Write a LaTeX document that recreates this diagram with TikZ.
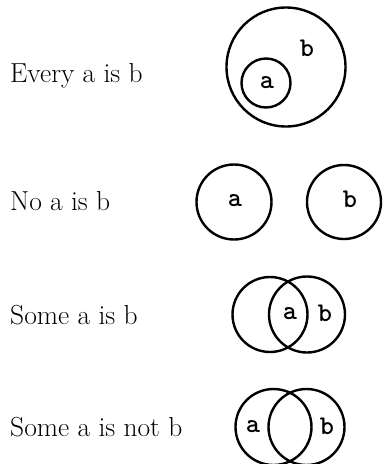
\documentclass[tikz,border=0pt]{standalone}
\begin{document}
\begin{tikzpicture}[x=1pt,y=-1pt,
  setc/.style={circle, draw, line width=2.4pt, inner sep=0pt, minimum size=#1},
  lbl/.style={font=\ttfamily\bfseries\fontsize{27}{27}\selectfont, inner sep=0pt},
  stmt/.style={font=\fontsize{27.5}{27.5}\selectfont, anchor=west, inner sep=0pt}]
\useasboundingbox (0,0) rectangle (385,464);
% Row 1
\node[stmt] (t1) at (10,76) {Every a is b};
\node[setc=119pt] (b1) at (286,67) {};
\node[setc=49pt] (a1) at (266,83) {};
\node[lbl] (la1) at (267,83) {a};
\node[lbl] (lb1) at (307,48) {b};
% Row 2
\node[stmt] (t2) at (10,201) {No a is b};
\node[setc=75pt] (a2) at (234,202) {};
\node[setc=74pt] (b2) at (344,202) {};
\node[lbl] (la2) at (235,201) {a};
\node[lbl] (lb2) at (350,199) {b};
% Row 3
\node[stmt] (t3) at (10,315) {Some a is b};
\node[setc=75pt] (b3) at (270,314.5) {};
\node[setc=76pt] (a3) at (307,314.5) {};
\node[lbl] (la3) at (290,314) {a};
\node[lbl] (lb3) at (325,313) {b};
% Row 4
\node[stmt] (t4) at (10,427) {Some a is not b};
\node[setc=76pt] (a4) at (273.5,427) {};
\node[setc=76pt] (b4) at (306.5,427) {};
\node[lbl] (la4) at (253,427) {a};
\node[lbl] (lb4) at (327,426) {b};
\end{tikzpicture}
\end{document}
